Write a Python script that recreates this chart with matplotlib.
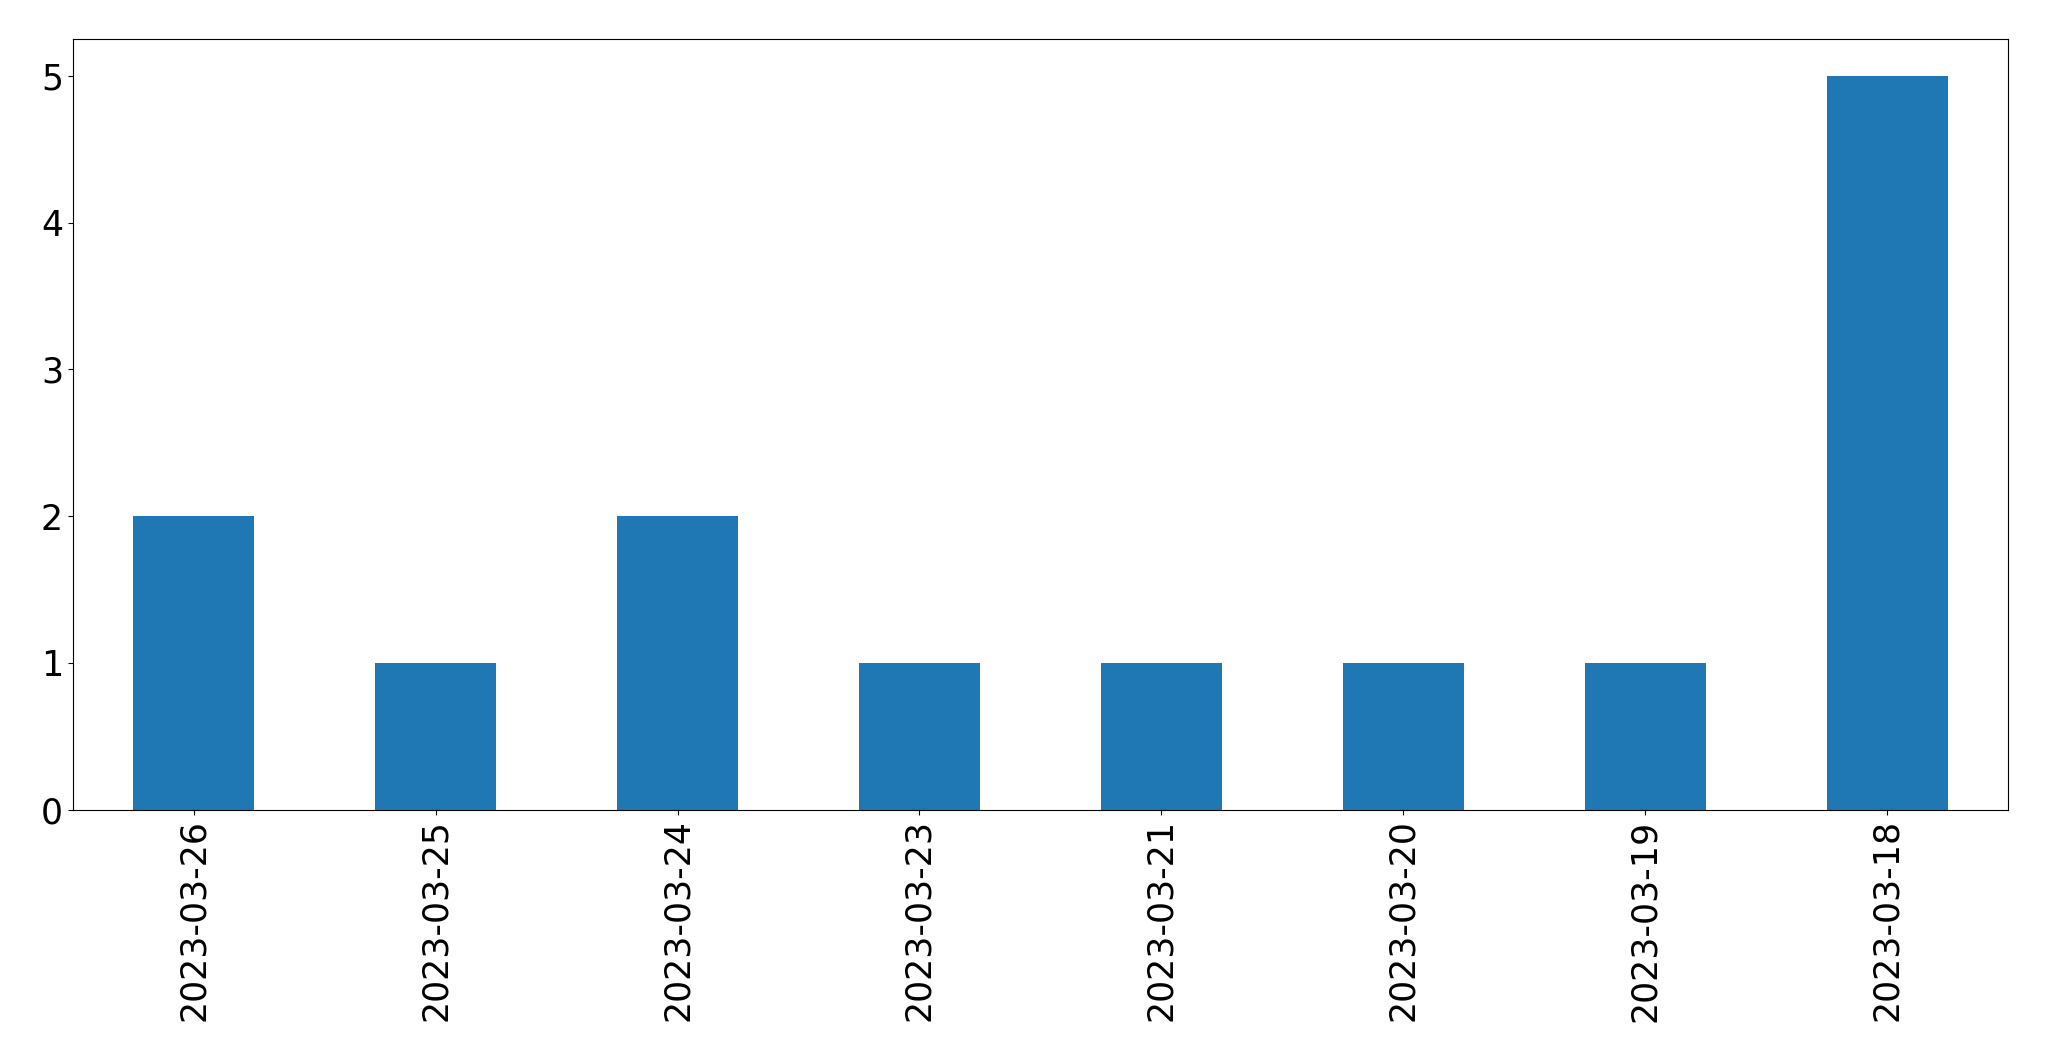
import matplotlib
matplotlib.use("Agg")
import matplotlib.pyplot as plt
import pandas as pd

dates = ["2023-03-26", "2023-03-25", "2023-03-24", "2023-03-23",
         "2023-03-21", "2023-03-20", "2023-03-19", "2023-03-18"]
counts = [2, 1, 2, 1, 1, 1, 1, 5]

s = pd.Series(counts, index=dates)

fig = plt.figure(figsize=(20.49, 10.61), dpi=100)
ax = fig.add_axes([0.0355, 0.237, 0.9445, 0.726])
s.plot(kind="bar", ax=ax, color="#1f77b4")
ax.tick_params(axis="both", labelsize=25)
plt.savefig("out.png", dpi=100)
